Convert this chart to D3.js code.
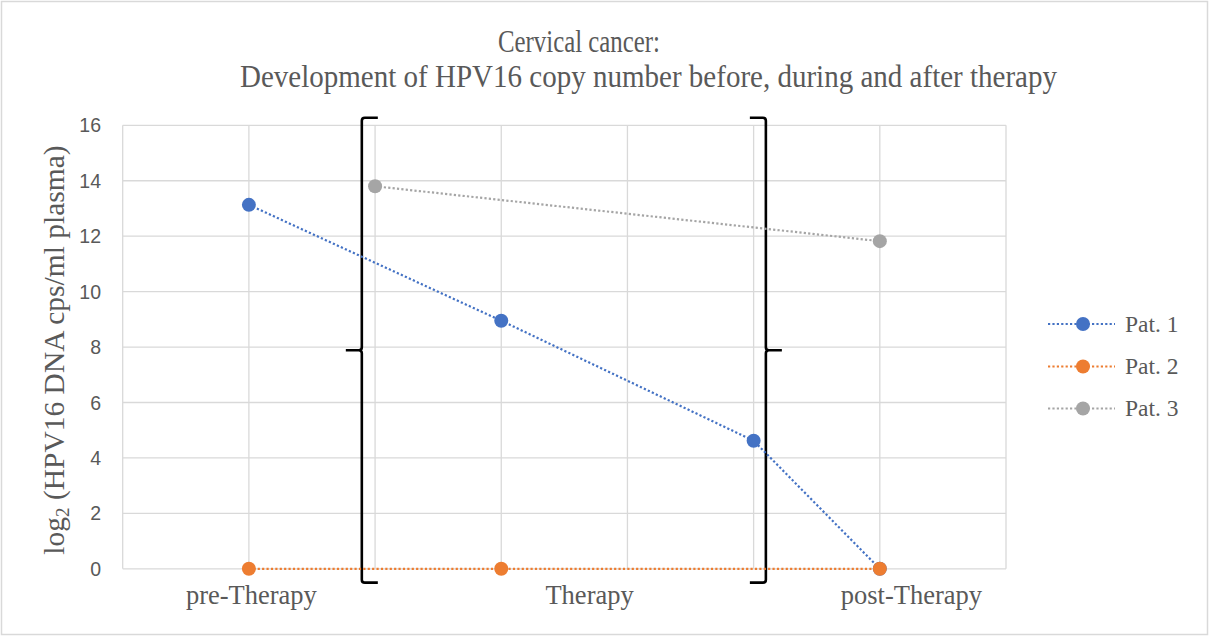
<!DOCTYPE html>
<html><head><meta charset="utf-8">
<script src="https://cdn.jsdelivr.net/npm/d3@7"></script>
<style>body{margin:0;background:#fff}svg{display:block}</style>
</head><body>
<svg id="c" width="1210" height="637"></svg>
<script>
const seriesNames = ["Pat. 1", "Pat. 2", "Pat. 3"];
const seriesColors = ["#4472C4", "#ED7D31", "#A5A5A5"];
const pat1X = [1, 3, 5, 6];
const pat1Y = [13.13, 8.95, 4.62, 0];
const pat2X = [1, 3, 6];
const pat2Y = [0, 0, 0];
const pat3X = [2, 6];
const pat3Y = [13.8, 11.82];
const yTicks = [0, 2, 4, 6, 8, 10, 12, 14, 16];
const xGrid = [0, 1, 2, 3, 4, 5, 6, 7];
const xLabels = ["pre-Therapy", "Therapy", "post-Therapy"];
const xLabelAt = [1.02, 3.7, 6.25];
const bracketX = [1.895, 5.097];
const titleLines = ["Cervical cancer:", "Development of HPV16 copy number before, during and after therapy"];

const svg = d3.select("#c");
const W = 1210, H = 637;
svg.append("rect").attr("x", 1.5).attr("y", 1.5).attr("width", W - 4).attr("height", H - 4)
  .attr("fill", "#fff").attr("stroke", "#d9d9d9").attr("stroke-width", 1.5);

const x = d3.scaleLinear().domain([0, 7]).range([122.7, 1006]);
const y = d3.scaleLinear().domain([0, 16]).range([568.8, 125.3]);

const g = svg.append("g");
g.selectAll("line.h").data(yTicks).join("line")
  .attr("x1", x(0)).attr("x2", x(7)).attr("y1", d => y(d)).attr("y2", d => y(d))
  .attr("stroke", "#d9d9d9").attr("stroke-width", 1.3);
g.selectAll("line.v").data(xGrid).join("line")
  .attr("y1", y(0)).attr("y2", y(16)).attr("x1", d => x(d)).attr("x2", d => x(d))
  .attr("stroke", "#d9d9d9").attr("stroke-width", 1.3);

g.selectAll("text.yt").data(yTicks).join("text")
  .attr("x", 101).attr("y", d => y(d)).attr("dy", "0.36em")
  .attr("text-anchor", "end").attr("fill", "#595959")
  .style("font-family", "'Liberation Sans', Arial, sans-serif").style("font-size", "19.5px")
  .text(d => d);

g.selectAll("text.xl").data(xLabels).join("text")
  .attr("x", (d, i) => x(xLabelAt[i])).attr("y", 604)
  .attr("text-anchor", "middle").attr("fill", "#595959")
  .style("font-family", "'Liberation Serif', 'Times New Roman', serif").style("font-size", "26.5px")
  .text(d => d);

const bTop = y(16.27), bBot = y(-0.5), bMid = (bTop + bBot) / 2, arm = 16, nub = 16, r = 3;
function bracePath(xv, dir) {
  const X = x(xv);
  return `M${X + dir * arm},${bTop} L${X + dir * r},${bTop} Q${X},${bTop} ${X},${bTop + r}
    L${X},${bMid - r} Q${X},${bMid} ${X - dir * r},${bMid} L${X - dir * nub},${bMid}
    M${X - dir * r},${bMid} Q${X},${bMid} ${X},${bMid + r}
    L${X},${bBot - r} Q${X},${bBot} ${X + dir * r},${bBot} L${X + dir * arm},${bBot}`;
}
g.append("path").attr("d", bracePath(bracketX[0], 1)).attr("fill", "none").attr("stroke", "#000").attr("stroke-width", 2.6);
g.append("path").attr("d", bracePath(bracketX[1], -1)).attr("fill", "none").attr("stroke", "#000").attr("stroke-width", 2.6);

const series = [
  pat1X.map((v, i) => [v, pat1Y[i]]),
  pat2X.map((v, i) => [v, pat2Y[i]]),
  pat3X.map((v, i) => [v, pat3Y[i]])
];
const line = d3.line().x(d => x(d[0])).y(d => y(d[1]));
[2, 0, 1].forEach(si => {
  g.append("path").datum(series[si]).attr("d", line).attr("fill", "none")
    .attr("stroke", seriesColors[si]).attr("stroke-width", 2.2)
    .attr("stroke-dasharray", "2.2,2.2");
});
[2, 0, 1].forEach(si => {
  g.selectAll(null).data(series[si]).join("circle")
    .attr("cx", d => x(d[0])).attr("cy", d => y(d[1])).attr("r", 7)
    .attr("fill", seriesColors[si]);
});

const legY = [324, 366.5, 408.5];
seriesNames.forEach((n, i) => {
  const lg = svg.append("g");
  lg.append("line").attr("x1", 1048).attr("x2", 1115).attr("y1", legY[i]).attr("y2", legY[i])
    .attr("stroke", seriesColors[i]).attr("stroke-width", 2.2).attr("stroke-dasharray", "2.2,2.2");
  lg.append("circle").attr("cx", 1083).attr("cy", legY[i]).attr("r", 7).attr("fill", seriesColors[i]);
  lg.append("text").attr("x", 1125).attr("y", legY[i]).attr("dy", "0.33em").attr("fill", "#595959")
    .style("font-family", "'Liberation Serif', 'Times New Roman', serif").style("font-size", "23.5px").text(n);
});

const titleW = [162, 817];
svg.selectAll("text.tt").data(titleLines).join("text")
  .attr("x", (d, i) => i === 0 ? 579 - titleW[0] / 2 : 648.5 - titleW[1] / 2)
  .attr("y", (d, i) => i === 0 ? 52 : 87)
  .attr("textLength", (d, i) => titleW[i]).attr("lengthAdjust", "spacingAndGlyphs")
  .attr("fill", "#595959")
  .style("font-family", "'Liberation Serif', 'Times New Roman', serif").style("font-size", "31px")
  .text(d => d);

const yt = svg.append("text").attr("transform", "translate(64,350) rotate(-90)")
  .attr("text-anchor", "middle").attr("fill", "#595959")
  .style("font-family", "'Liberation Serif', 'Times New Roman', serif").style("font-size", "29.5px");
yt.append("tspan").text("log");
yt.append("tspan").attr("baseline-shift", "-25%").style("font-size", "19px").text("2");
yt.append("tspan").text(" (HPV16 DNA cps/ml plasma)");
</script>
</body></html>
